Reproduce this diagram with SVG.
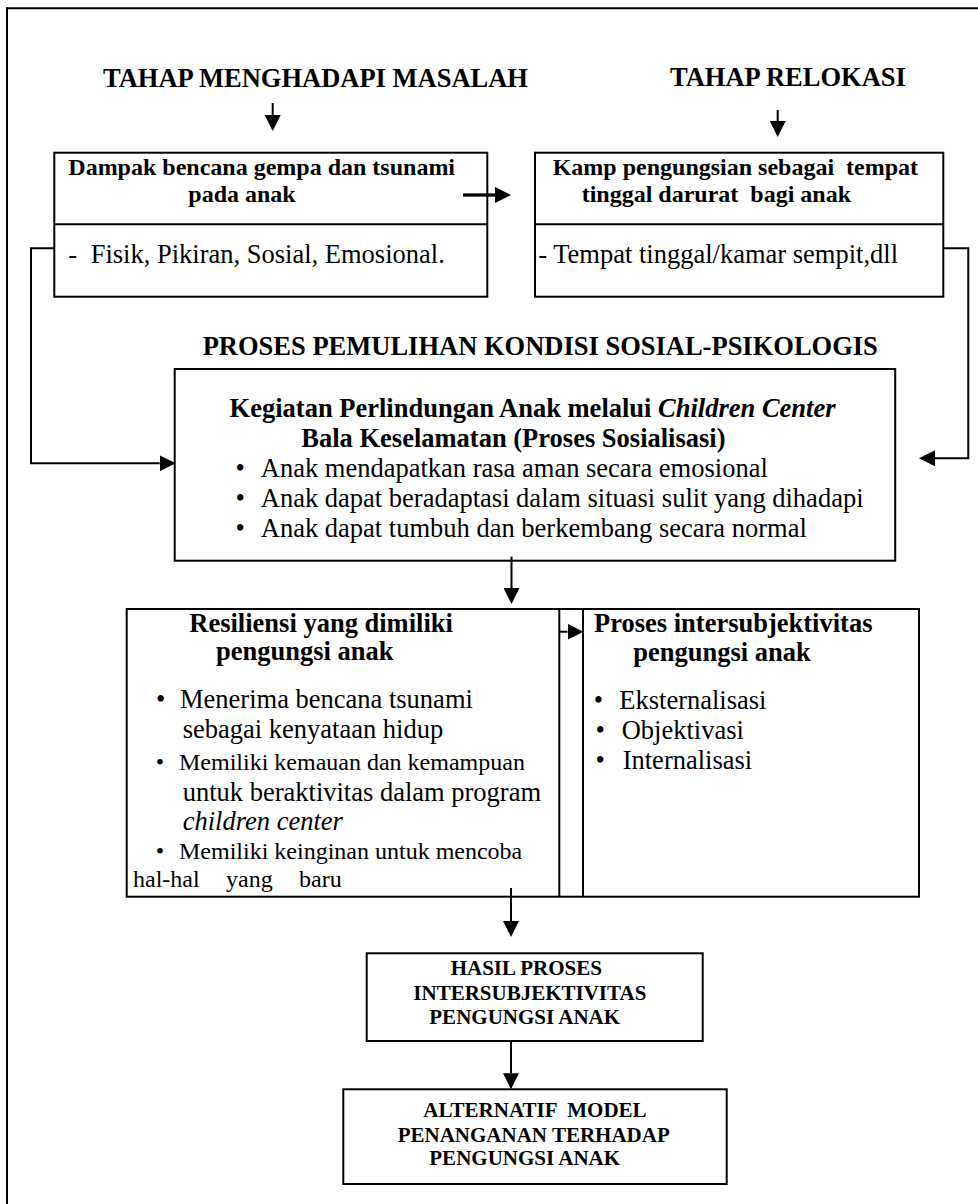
<svg xmlns="http://www.w3.org/2000/svg" width="978" height="1204" viewBox="0 0 978 1204">
<style>
text { font-family: "Liberation Serif", "Times New Roman", serif; fill: #000; }
.h { font-size: 26.5px; font-weight: bold; }
.t { font-size: 24px; font-weight: bold; }
.b { font-size: 26.5px; font-weight: bold; }
.r { font-size: 26.5px; }
.s { font-size: 24px; }
.c { font-size: 21px; font-weight: bold; }
.box { fill: #fff; stroke: #000; stroke-width: 2; }
.ln { fill: none; stroke: #000; stroke-width: 2; }
.con { fill: none; stroke: #000; stroke-width: 2; marker-end: url(#ah); }
.thick { stroke-width: 3.3; }
</style>
<defs>
<marker id="ah" markerUnits="userSpaceOnUse" markerWidth="16" markerHeight="16" viewBox="0 0 15 15" refX="0" refY="7.5" orient="auto">
<path d="M0,0 L15,7.5 L0,15 Z" fill="#000"/>
</marker>
</defs>
<rect width="978" height="1204" fill="#fff"/>
<g id="frame">
<line x1="6" y1="8.2" x2="978" y2="8.2" class="ln" stroke-width="2.2"/>
<line x1="7" y1="7" x2="7" y2="1204" class="ln" stroke-width="2.2"/>
</g>
<g id="heading-masalah">
<text class="h" x="103" y="86.7">TAHAP MENGHADAPI MASALAH</text>
</g>
<g id="heading-relokasi">
<text class="h" x="670" y="86">TAHAP RELOKASI</text>
</g>
<g id="box-dampak">
<rect class="box" x="54.3" y="152.7" width="433" height="144"/>
<line class="ln" x1="54.3" y1="224.3" x2="487.3" y2="224.3"/>
<text class="t" x="68.3" y="175">Dampak bencana gempa dan tsunami</text>
<text class="t" x="188.3" y="201.7">pada anak</text>
<text class="r" y="263.3"><tspan x="68.3">-</tspan><tspan x="90.7">Fisik, Pikiran, Sosial, Emosional.</tspan></text>
</g>
<g id="box-kamp">
<rect class="box" x="535" y="152.7" width="408.3" height="144"/>
<line class="ln" x1="535" y1="224.3" x2="943.3" y2="224.3"/>
<text class="t" x="552.7" y="175" xml:space="preserve">Kamp pengungsian sebagai  tempat</text>
<text class="t" x="581.7" y="201.7" xml:space="preserve">tinggal darurat  bagi anak</text>
<text class="r" x="538.3" y="263.3">- Tempat tinggal/kamar sempit,dll</text>
</g>
<g id="heading-proses">
<text class="h" x="202.7" y="355">PROSES PEMULIHAN KONDISI SOSIAL-PSIKOLOGIS</text>
</g>
<g id="box-kegiatan">
<rect class="box" x="174.7" y="369" width="720.5" height="191.7"/>
<text class="b" x="229.6" y="416.7">Kegiatan Perlindungan Anak melalui <tspan font-style="italic">Children Center</tspan></text>
<text class="b" x="301.3" y="446.7">Bala Keselamatan (Proses Sosialisasi)</text>
<text class="r" y="476.7"><tspan x="235.5">•</tspan><tspan x="260.8">Anak mendapatkan rasa aman secara emosional</tspan></text>
<text class="r" y="506.7"><tspan x="235.5">•</tspan><tspan x="260.8">Anak dapat beradaptasi dalam situasi sulit yang dihadapi</tspan></text>
<text class="r" y="537.3"><tspan x="235.5">•</tspan><tspan x="260.8">Anak dapat tumbuh dan berkembang secara normal</tspan></text>
</g>
<g id="box-resiliensi">
<rect class="box" x="126.7" y="609" width="792.3" height="287.7"/>
<line class="ln" x1="559.3" y1="609" x2="559.3" y2="896.7"/>
<line class="ln" x1="583" y1="609" x2="583" y2="896.7"/>
<text class="b" x="189.3" y="631.7">Resiliensi yang dimiliki</text>
<text class="b" x="216" y="660">pengungsi anak</text>
<text class="r" y="708.3"><tspan x="156">•</tspan><tspan x="180">Menerima bencana tsunami</tspan></text>
<text class="r" x="182.7" y="738.3">sebagai kenyataan hidup</text>
<text class="s" y="770"><tspan x="155.8">•</tspan><tspan x="179">Memiliki kemauan dan kemampuan</tspan></text>
<text class="r" x="182.7" y="800.7">untuk beraktivitas dalam program</text>
<text class="r" x="182.7" y="830" font-style="italic">children center</text>
<text class="s" y="859.3"><tspan x="155.8">•</tspan><tspan x="179">Memiliki keinginan untuk mencoba</tspan></text>
<text class="s" y="886.7"><tspan x="133">hal-hal</tspan><tspan x="226">yang</tspan><tspan x="299">baru</tspan></text>
</g>
<g id="box-intersubjektivitas">
<text class="b" x="594" y="631.7">Proses intersubjektivitas</text>
<text class="b" x="633.3" y="660.7">pengungsi anak</text>
<text class="r" y="709"><tspan x="593.7">•</tspan><tspan x="619.3">Eksternalisasi</tspan></text>
<text class="r" y="739"><tspan x="595.4">•</tspan><tspan x="621.7">Objektivasi</tspan></text>
<text class="r" y="769"><tspan x="595.4">•</tspan><tspan x="622.7">Internalisasi</tspan></text>
</g>
<g id="box-hasil">
<rect class="box" x="366.7" y="953.3" width="336" height="87.7"/>
<text class="c" x="450.7" y="975">HASIL PROSES</text>
<text class="c" x="413.3" y="1000">INTERSUBJEKTIVITAS</text>
<text class="c" x="429.3" y="1024.3">PENGUNGSI ANAK</text>
</g>
<g id="box-alternatif">
<rect class="box" x="343.3" y="1089.3" width="383.4" height="94.7"/>
<text class="c" x="423.3" y="1116.7" xml:space="preserve">ALTERNATIF  MODEL</text>
<text class="c" x="397.7" y="1141.7">PENANGANAN TERHADAP</text>
<text class="c" x="429.3" y="1165">PENGUNGSI ANAK</text>
</g>
<g id="connectors">
<line class="con" x1="272.7" y1="103" x2="272.7" y2="115"/>
<line class="con" x1="777.7" y1="110" x2="777.7" y2="121"/>
<line class="con thick" x1="463" y1="195" x2="495" y2="195"/>
<polyline class="con" points="54.3,248.3 31,248.3 31,463.3 159.7,463.3"/>
<polyline class="con" points="943.3,248.3 968.3,248.3 968.3,458.3 935,458.3"/>
<line class="con" x1="511.5" y1="556.7" x2="511.5" y2="588"/>
<line class="con" x1="560" y1="631.7" x2="567.5" y2="631.7"/>
<line class="con" x1="511" y1="888" x2="511" y2="921"/>
<line class="con" x1="511" y1="1041" x2="511" y2="1073.3"/>
</g>
</svg>
